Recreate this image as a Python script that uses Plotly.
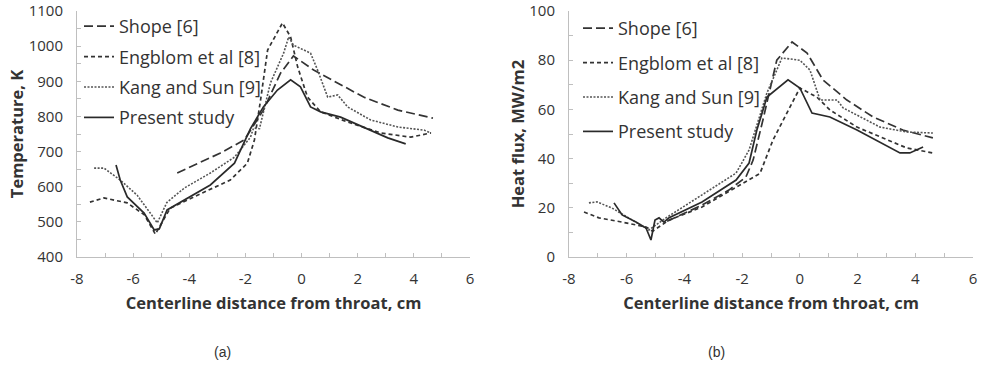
import plotly.graph_objects as go

# ---------- Panel (a): Temperature ----------
shope_T_x = [-4.43, -2.89, -2.04, -1.82, -1.36, -0.75, -0.29, 0.43, 2.21, 3.43, 4.68]
shope_T_y = [639, 696, 733, 761, 818, 923, 972, 932, 855, 818, 795]

engb_T_x = [-7.54, -7.04, -6.21, -5.6, -5.21, -4.68, -3.46, -2.54, -1.93, -1.68, -1.46, -1.21, -0.68, -0.39, -0.14, 0.21, 0.68, 1.64, 2.82, 3.89, 4.61]
engb_T_y = [556, 568, 554, 520, 465, 539, 585, 619, 667, 733, 847, 989, 1066, 1026, 941, 855, 813, 784, 753, 741, 753]

kang_T_x = [-7.39, -7.04, -6.46, -5.86, -5.39, -5.14, -4.8, -4.18, -3.25, -2.39, -1.82, -1.71, -1.5, -1.11, -0.64, -0.46, -0.29, 0.32, 0.57, 0.93, 1.29, 1.64, 2.46, 3.43, 4.36, 4.61]
kang_T_y = [653, 653, 619, 576, 525, 497, 555, 596, 639, 684, 741, 767, 765, 895, 980, 1026, 1003, 980, 932, 855, 861, 827, 790, 770, 761, 753]

pres_T_x = [-6.61, -6.46, -6.21, -5.61, -5.25, -5.07, -4.79, -4.18, -3.25, -2.39, -1.82, -1.36, -0.86, -0.39, -0.04, 0.32, 0.68, 1.39, 2.21, 3.07, 3.71]
pres_T_y = [662, 619, 571, 525, 477, 480, 534, 562, 605, 667, 765, 827, 875, 904, 884, 827, 813, 798, 770, 739, 722]

# ---------- Panel (b): Heat flux ----------
shope_Q_x = [-4.6, -3.39, -2.46, -1.87, -1.62, -1.28, -0.8, -0.27, 0.25, 0.8, 1.63, 2.53, 3.57, 4.61]
shope_Q_y = [14.5, 21.1, 27.2, 32.5, 39.4, 55.7, 80.0, 87.4, 82.9, 72.0, 63.8, 57.0, 51.6, 48.4]

engb_Q_x = [-7.48, -6.96, -6.16, -5.33, -5.1, -4.53, -3.39, -2.42, -1.62, -1.38, -0.93, -0.45, 0.0, 0.59, 1.04, 1.98, 2.78, 3.71, 4.61]
engb_Q_y = [18.3, 15.9, 14.2, 12.2, 10.5, 15.0, 20.3, 27.0, 32.5, 34.0, 47.6, 58.5, 68.7, 65.0, 59.8, 52.8, 48.8, 44.3, 42.3]

kang_Q_x = [-7.31, -7.03, -6.51, -5.68, -5.23, -4.64, -3.39, -2.21, -1.76, -1.14, -0.62, 0.0, 0.35, 0.7, 1.29, 1.5, 2.78, 3.71, 4.61]
kang_Q_y = [22.0, 22.4, 19.9, 14.2, 11.0, 15.9, 25.2, 34.1, 43.5, 66.7, 80.9, 80.0, 76.0, 63.8, 63.8, 60.6, 52.8, 50.8, 50.4]

pres_Q_x = [-6.44, -6.16, -5.68, -5.33, -5.16, -5.02, -4.88, -4.71, -4.53, -3.39, -2.21, -1.76, -1.49, -1.14, -0.41, 0.0, 0.42, 1.04, 1.98, 2.78, 3.47, 3.81, 4.27]
pres_Q_y = [22.0, 17.1, 14.2, 11.8, 6.9, 15.0, 15.9, 14.2, 16.0, 22.4, 31.3, 38.2, 51.6, 65.0, 72.0, 68.7, 58.5, 56.9, 51.6, 46.7, 42.3, 42.3, 44.7]

names = ["Shope [6]", "Engblom et al [8]", "Kang and Sun [9]", "Present study"]
x_ticks = [-8, -6, -4, -2, 0, 2, 4, 6]
x_ticktext = ["-8", "-6", "-4", "-2", "0", "2", "4", "6"]
yT_ticks = [400, 500, 600, 700, 800, 900, 1000, 1100]
yQ_ticks = [0, 20, 40, 60, 80, 100]

styles = [
    dict(color="#333333", width=1.7, dash="9px,4px"),
    dict(color="#333333", width=1.7, dash="4px,3px"),
    dict(color="#555555", width=1.6, dash="2px,1.5px"),
    dict(color="#2a2a2a", width=1.7, dash="solid"),
]

fig = go.Figure()
left = [(shope_T_x, shope_T_y), (engb_T_x, engb_T_y), (kang_T_x, kang_T_y), (pres_T_x, pres_T_y)]
right = [(shope_Q_x, shope_Q_y), (engb_Q_x, engb_Q_y), (kang_Q_x, kang_Q_y), (pres_Q_x, pres_Q_y)]

for i, (xs, ys) in enumerate(left):
    fig.add_trace(go.Scatter(x=xs, y=ys, mode="lines", name=names[i], line=styles[i],
                             xaxis="x", yaxis="y", legend="legend", legendgroup="a%d" % i))
for i, (xs, ys) in enumerate(right):
    fig.add_trace(go.Scatter(x=xs, y=ys, mode="lines", name=names[i], line=styles[i],
                             xaxis="x2", yaxis="y2", legend="legend2", legendgroup="b%d" % i))

font_fam = "Open Sans, Lato, sans-serif"
axis_common = dict(showline=True, linecolor="#bfbfbf", linewidth=1, showgrid=False, zeroline=False,
                   ticks="inside", ticklen=4, tickcolor="#bfbfbf", automargin=False,
                   tickfont=dict(size=15, color="#333333", family=font_fam))
xaxis_common = dict(range=[-8, 6], tickvals=x_ticks, ticktext=x_ticktext, ticklabelstandoff=8,
                    minor=dict(dtick=1, ticks="inside", ticklen=4, tickcolor="#bfbfbf"),
                    title=dict(text="<b>Centerline distance from throat, cm</b>",
                               font=dict(size=16.5, color="#333333"), standoff=10))
title_font = dict(size=16.5, color="#333333")

ydom = [(372 - 257) / 372, (372 - 11) / 372]
fig.update_layout(
    width=983, height=372, margin=dict(l=0, r=0, t=0, b=0, autoexpand=False),
    paper_bgcolor="white", plot_bgcolor="white",
    font=dict(family=font_fam, color="#333333"),
    xaxis=dict(domain=[77 / 983, 470 / 983], anchor="y", **xaxis_common, **axis_common),
    yaxis=dict(domain=ydom, range=[400, 1100], tickvals=yT_ticks, ticklabelstandoff=10,
               minor=dict(dtick=50, ticks="inside", ticklen=4, tickcolor="#bfbfbf"),
               title=dict(text="<b>Temperature, K</b>", font=title_font, standoff=0),
               anchor="x", **axis_common),
    xaxis2=dict(domain=[569 / 983, 973 / 983], anchor="y2", **xaxis_common, **axis_common),
    yaxis2=dict(domain=ydom, range=[0, 100], tickvals=yQ_ticks, ticklabelstandoff=10,
                minor=dict(dtick=10, ticks="inside", ticklen=4, tickcolor="#bfbfbf"),
                title=dict(text="<b>Heat flux, MW/m2</b>", font=title_font, standoff=0),
                anchor="x2", **axis_common),
    legend=dict(x=79 / 983, y=1 - 8 / 372, xanchor="left", yanchor="top", bgcolor="rgba(0,0,0,0)",
                font=dict(size=18, color="#333333"), tracegroupgap=4, itemwidth=30),
    legend2=dict(x=578 / 983, y=1 - 10 / 372, xanchor="left", yanchor="top", bgcolor="rgba(0,0,0,0)",
                 font=dict(size=18, color="#333333"), tracegroupgap=8, itemwidth=30),
    annotations=[
        dict(text="(a)", x=222 / 983, y=1 - 352 / 372, xref="paper", yref="paper", showarrow=False,
             xanchor="center", yanchor="middle",
             font=dict(size=14, color="#333333", family="Liberation Sans, Arial, sans-serif")),
        dict(text="(b)", x=716 / 983, y=1 - 352 / 372, xref="paper", yref="paper", showarrow=False,
             xanchor="center", yanchor="middle",
             font=dict(size=14, color="#333333", family="Liberation Sans, Arial, sans-serif")),
    ],
)

fig.write_html("out.html")
